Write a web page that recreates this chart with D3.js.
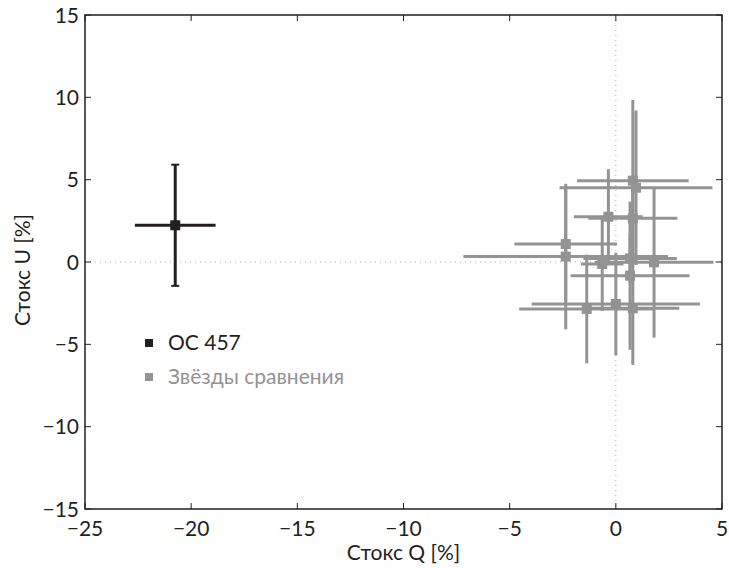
<!DOCTYPE html>
<html><head><meta charset="utf-8">
<script src="https://cdn.jsdelivr.net/npm/d3@7"></script>
<style>
body{margin:0;background:#fff;}
svg{display:block;font-family:Lato,"Open Sans",sans-serif;}
</style></head>
<body><svg id="c" width="729" height="568"></svg>
<script>
// Data
const xTicks = [-25,-20,-15,-10,-5,0,5];
const yTicks = [-15,-10,-5,0,5,10,15];
const objName = "OC 457";
const compName = "Звёзды сравнения";
const objQ = [-20.75], objU = [2.23], objQerr = [1.9], objUerr = [3.68];
const compQ    = [0.80, 0.95, -0.35, 0.80, -2.36, -2.36, -0.64, 0.67, 1.80, 0.67, -1.37, 0.00, 0.80];
const compU    = [4.94, 4.51,  2.75, 2.65,  1.09,  0.33, -0.12, 0.22, -0.02, -0.83, -2.85, -2.55, -2.81];
const compQerr = [2.63, 3.60,  1.62, 2.10,  2.42,  4.82,  1.00, 2.20, 2.80, 2.80, 3.18, 3.96, 2.19];
const compUerr = [4.90, 4.69,  2.88, 2.00,  3.50,  4.42,  2.85, 1.50, 4.57, 4.50, 3.30, 3.12, 3.44];

const L=85,R=722,T=15,B=509;
const svg=d3.select("#c");
const x=d3.scaleLinear().domain([-25,5]).range([L,R]);
const y=d3.scaleLinear().domain([-15,15]).range([B,T]);
const black="#231f20", gray="#939393", fs=21;

// zero lines
svg.append("line").attr("x1",L).attr("x2",R).attr("y1",y(0)).attr("y2",y(0))
  .attr("stroke","#aaa").attr("stroke-width",1).attr("stroke-dasharray","1,4");
svg.append("line").attr("x1",x(0)).attr("x2",x(0)).attr("y1",T).attr("y2",B)
  .attr("stroke","#aaa").attr("stroke-width",1).attr("stroke-dasharray","1,4");

function series(Q,U,Qe,Ue,col,cap){
  const g=svg.append("g");
  const d=Q.map((q,i)=>({q,u:U[i],qe:Qe[i],ue:Ue[i]}));
  d.forEach(p=>{
    g.append("line").attr("x1",x(p.q-p.qe)).attr("x2",x(p.q+p.qe)).attr("y1",y(p.u)).attr("y2",y(p.u))
      .attr("stroke",col).attr("stroke-width",3);
    g.append("line").attr("x1",x(p.q)).attr("x2",x(p.q)).attr("y1",y(p.u-p.ue)).attr("y2",y(p.u+p.ue))
      .attr("stroke",col).attr("stroke-width",3);
    if(cap){
      [p.u-p.ue,p.u+p.ue].forEach(v=>g.append("line").attr("x1",x(p.q)-4).attr("x2",x(p.q)+4)
        .attr("y1",y(v)).attr("y2",y(v)).attr("stroke",col).attr("stroke-width",2));
    }
  });
  g.selectAll("rect").data(d).join("rect")
    .attr("x",p=>x(p.q)-5).attr("y",p=>y(p.u)-5).attr("width",10).attr("height",10).attr("fill",col);
}
series(compQ,compU,compQerr,compUerr,gray,false);
series(objQ,objU,objQerr,objUerr,black,true);

// axes box
svg.append("rect").attr("x",L).attr("y",T).attr("width",R-L).attr("height",B-T)
  .attr("fill","none").attr("stroke",black).attr("stroke-width",1.5);
const ax=svg.append("g").attr("stroke",black).attr("stroke-width",1);
xTicks.forEach(t=>{
  ax.append("line").attr("x1",x(t)).attr("x2",x(t)).attr("y1",B).attr("y2",B-6);
  ax.append("line").attr("x1",x(t)).attr("x2",x(t)).attr("y1",T).attr("y2",T+6);
});
yTicks.forEach(t=>{
  ax.append("line").attr("x1",L).attr("x2",L+6).attr("y1",y(t)).attr("y2",y(t));
  ax.append("line").attr("x1",R).attr("x2",R-6).attr("y1",y(t)).attr("y2",y(t));
});
const fmt=t=>t<0?"\u2212"+Math.abs(t):String(t);
svg.append("g").selectAll("text").data(xTicks).join("text")
  .attr("x",d=>x(d)).attr("y",536).attr("text-anchor","middle").attr("font-size",fs).attr("fill",black).text(fmt);
svg.append("g").selectAll("text").data(yTicks).join("text")
  .attr("x",79).attr("y",d=>y(d)+7.5).attr("text-anchor","end").attr("font-size",fs).attr("fill",black).text(fmt);
svg.append("text").attr("x",(L+R)/2).attr("y",560).attr("text-anchor","middle").attr("font-size",fs)
  .attr("fill",black).text("Стокс Q [%]");
svg.append("text").attr("transform","translate(30,270) rotate(-90)").attr("text-anchor","middle")
  .attr("font-size",fs).attr("fill",black).text("Стокс U [%]");

// legend
const leg=[{n:objName,c:black,yy:343},{n:compName,c:gray,yy:377}];
leg.forEach(l=>{
  svg.append("rect").attr("x",145).attr("y",l.yy-4).attr("width",8).attr("height",8).attr("fill",l.c);
  svg.append("text").attr("x",168).attr("y",l.yy+6.5).attr("font-size",fs).attr("fill",l.c).text(l.n);
});
</script></body></html>
